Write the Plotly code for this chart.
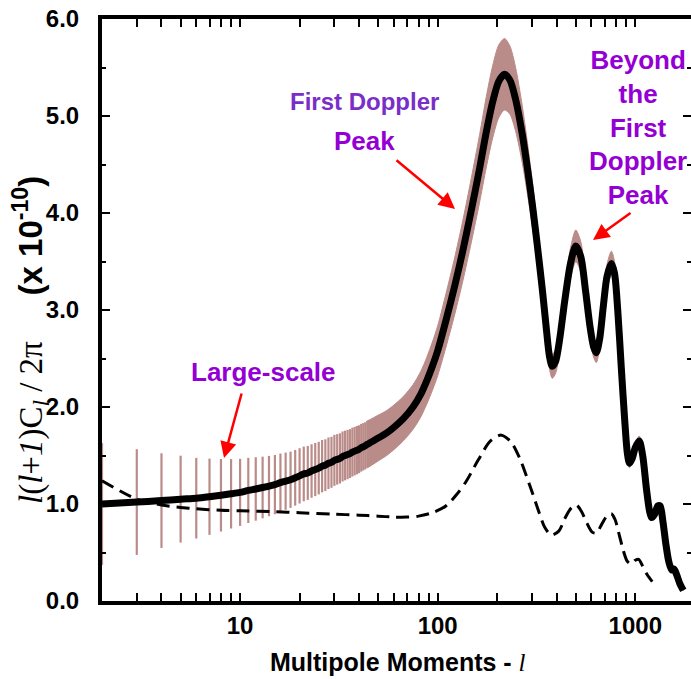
import math
import plotly.graph_objects as go

# ---------------- data ----------------
# low multipoles: individual cosmic-variance bars
l_low = list(range(2, 46))
cl_low = [1.00, 1.02, 1.035, 1.05, 1.06, 1.075, 1.09, 1.105, 1.12, 1.14, 1.155, 1.17, 1.185, 1.20,
          1.22, 1.235, 1.25, 1.27, 1.29, 1.31, 1.32, 1.34, 1.355, 1.37, 1.39, 1.40, 1.42, 1.43,
          1.45, 1.46, 1.47, 1.49, 1.50, 1.51, 1.52, 1.535, 1.545, 1.555, 1.565, 1.58, 1.59, 1.60,
          1.615, 1.625]
err_low = [0.63, 0.545, 0.488, 0.448, 0.416, 0.393, 0.374, 0.358, 0.346, 0.336, 0.327, 0.318, 0.311,
           0.305, 0.300, 0.295, 0.290, 0.287, 0.285, 0.282, 0.278, 0.276, 0.274, 0.271, 0.270, 0.267,
           0.266, 0.263, 0.263, 0.260, 0.259, 0.258, 0.256, 0.254, 0.252, 0.252, 0.250, 0.249, 0.247,
           0.246, 0.244, 0.243, 0.242, 0.241]

# higher multipoles: continuous band
l_high = [50, 55, 60, 67, 75, 82, 88, 94, 100, 111, 122, 134, 148, 163, 176, 190, 204, 218, 232, 248,
          268, 285, 303, 320, 339, 355, 368, 380, 395, 413, 440, 470, 500, 530, 560, 590, 615, 635,
          660, 690, 720, 757, 785, 815, 850, 885, 912, 935, 965, 1000, 1047, 1090, 1140, 1180, 1209,
          1250, 1300, 1336, 1380, 1430, 1480, 1530, 1570, 1620, 1680, 1750]
cl_high = [1.68, 1.73, 1.79, 1.88, 2.00, 2.13, 2.27, 2.42, 2.58, 2.92, 3.25, 3.61, 4.03, 4.46, 4.83,
           5.15, 5.36, 5.43, 5.37, 5.17, 4.81, 4.45, 4.05, 3.65, 3.20, 2.80, 2.52, 2.42, 2.47, 2.68,
           3.10, 3.48, 3.66, 3.55, 3.20, 2.83, 2.62, 2.56, 2.70, 3.05, 3.35, 3.48, 3.38, 3.00, 2.40,
           1.85, 1.52, 1.42, 1.47, 1.58, 1.65, 1.50, 1.15, 0.93, 0.86, 0.89, 0.98, 0.98, 0.82, 0.58,
           0.40, 0.32, 0.33, 0.27, 0.18, 0.11]
err_high = [0.236, 0.232, 0.230, 0.229, 0.230, 0.235, 0.241, 0.249, 0.257, 0.277, 0.294, 0.312, 0.331,
            0.349, 0.364, 0.373, 0.375, 0.368, 0.352, 0.328, 0.294, 0.264, 0.233, 0.204, 0.174, 0.149,
            0.131, 0.124, 0.124, 0.132, 0.148, 0.160, 0.164, 0.154, 0.135, 0.116, 0.106, 0.102, 0.105,
            0.116, 0.125, 0.126, 0.121, 0.105, 0.082, 0.062, 0.050, 0.046, 0.047, 0.050, 0.051, 0.045,
            0.034, 0.027, 0.025, 0.025, 0.027, 0.027, 0.022, 0.015, 0.010, 0.008, 0.008, 0.007, 0.004,
            0.003]

# dashed comparison model
l_dash = [2, 3, 4, 5, 6, 8, 10, 15, 20, 30, 40, 50, 60, 70, 80, 94, 110, 125, 140, 160, 185, 210, 235,
          259, 280, 302, 325, 348, 376, 410, 440, 470, 503, 535, 570, 605, 635, 680, 720, 757, 790,
          830, 870, 910, 950, 1000, 1040, 1090, 1150, 1219]
cl_dash = [1.24, 1.05, 0.99, 0.965, 0.95, 0.935, 0.93, 0.92, 0.91, 0.895, 0.885, 0.875, 0.865, 0.865,
           0.875, 0.91, 0.98, 1.10, 1.24, 1.45, 1.65, 1.71, 1.64, 1.48, 1.30, 1.11, 0.92, 0.76, 0.68,
           0.72, 0.85, 0.95, 0.99, 0.92, 0.80, 0.71, 0.70, 0.80, 0.88, 0.90, 0.84, 0.68, 0.52, 0.41,
           0.38, 0.42, 0.43, 0.36, 0.27, 0.20]

x_ticks = [10, 100, 1000]
x_minor = [3, 4, 5, 6, 7, 8, 9, 20, 30, 40, 50, 60, 70, 80, 90, 200, 300, 400, 500, 600, 700, 800, 900]
y_ticks = [0, 1, 2, 3, 4, 5, 6]
y_ticklabels = ["0.0", "1.0", "2.0", "3.0", "4.0", "5.0", "6.0"]
y_minor = [0.5, 1.5, 2.5, 3.5, 4.5, 5.5]

# ---------------- styling ----------------
BAND = "#ba8c89"
PURPLE = "#9400d3"
PURPLE2 = "#7a2ec8"
SANS = "Liberation Sans, Arial, sans-serif"
SERIF = "Liberation Serif, Times New Roman, serif"

W, H = 691, 679
ML, MR, MT, MB = 102, 0, 19, 78
PW, PH = W - ML - MR, H - MT - MB


def px(xp):
    return (xp - ML) / PW


def py(yp):
    return (H - MB - yp) / PH


fig = go.Figure()

# error bars at low l
bx, by = [], []
for l, c, e in zip(l_low, cl_low, err_low):
    bx += [l, l, None]
    by += [c - e, c + e, None]
fig.add_trace(go.Scatter(x=bx, y=by, mode="lines", line=dict(color=BAND, width=2.2),
                         cliponaxis=False, hoverinfo="skip"))

# band at higher l
lb = l_low[-2:] + l_high
cb = cl_low[-2:] + cl_high
eb = err_low[-2:] + err_high
up = [c + e for c, e in zip(cb, eb)]
lo = [c - e for c, e in zip(cb, eb)]
fig.add_trace(go.Scatter(x=lb + lb[::-1], y=up + lo[::-1], mode="lines", fill="toself",
                         fillcolor=BAND, line=dict(color=BAND, width=1, shape="spline", smoothing=0.8),
                         hoverinfo="skip"))

# dashed model
fig.add_trace(go.Scatter(x=l_dash, y=cl_dash, mode="lines",
                         line=dict(color="black", width=3, dash="13px,7px", shape="spline", smoothing=0.8),
                         cliponaxis=False))

# solid model
fig.add_trace(go.Scatter(x=l_low + l_high, y=cl_low + cl_high, mode="lines",
                         line=dict(color="black", width=7, shape="spline", smoothing=0.8),
                         cliponaxis=False))

# invisible trace to host the right-hand tick axis
fig.add_trace(go.Scatter(x=[l_low[0]], y=[cl_low[0]], yaxis="y2", mode="markers",
                         marker=dict(opacity=0), hoverinfo="skip"))

tickfont = dict(family=SANS, size=24, color="black", weight="bold")
fig.update_layout(
    xaxis=dict(type="log", range=[math.log10(2), 3.282], showline=True, linewidth=4, linecolor="black",
               mirror="allticks", ticks="inside", ticklen=8, tickwidth=2, tickcolor="black",
               tickvals=x_ticks, ticktext=[str(v) for v in x_ticks], tickfont=tickfont,
               ticklabelstandoff=0, showgrid=False, zeroline=False,
               minor=dict(tickvals=x_minor, ticks="inside", ticklen=4, tickwidth=2,
                          tickcolor="black", showgrid=False)),
    yaxis=dict(range=[0, 6], showline=True, linewidth=4, linecolor="black",
               ticks="inside", ticklen=8, tickwidth=2, tickcolor="black",
               tickvals=y_ticks, ticktext=y_ticklabels, tickfont=tickfont,
               ticklabelstandoff=14, showgrid=False, zeroline=False,
               minor=dict(tickvals=y_minor, ticks="inside", ticklen=4, tickwidth=2,
                          tickcolor="black", showgrid=False)),
    yaxis2=dict(range=[0, 6], overlaying="y", side="right", showline=False,
                ticks="inside", ticklen=8, tickwidth=2, tickcolor="black",
                tickvals=y_ticks, showticklabels=False, showgrid=False, zeroline=False,
                minor=dict(tickvals=y_minor, ticks="inside", ticklen=4, tickwidth=2,
                           tickcolor="black", showgrid=False)),
)

ann = []
# axis titles
ann.append(dict(xref="paper", yref="paper", x=px(398), y=py(662), xanchor="center", yanchor="middle",
                showarrow=False,
                text="<b>Multipole Moments - </b><span style=\"font-family:Liberation Serif\"><i>l</i></span>",
                font=dict(family=SANS, size=25, color="black")))
ann.append(dict(xref="paper", yref="paper", x=px(30), y=py(340), xanchor="center", yanchor="middle",
                showarrow=False, textangle=-90,
                text=("<span style=\"font-family:Liberation Serif;font-size:33px\"><i>l</i>(<i>l</i>+<i>1</i>)"
                      "C<sub><i>l</i></sub> / 2π</span>     <b>(x 10<sup>-10</sup>)</b>"),
                font=dict(family=SANS, size=33, color="black")))

# text labels
lab = dict(xref="paper", yref="paper", showarrow=False, xanchor="center", yanchor="middle")
ann.append(dict(lab, x=px(263), y=py(372), text="<b>Large-scale</b>",
                font=dict(family=SANS, size=26, color=PURPLE)))
ann.append(dict(lab, x=px(364), y=py(101), text="<b>First Doppler</b>",
                font=dict(family=SANS, size=24, color=PURPLE2)))
ann.append(dict(lab, x=px(364), y=py(141), text="<b>Peak</b>",
                font=dict(family=SANS, size=26, color=PURPLE)))
ann.append(dict(lab, x=px(638), y=py(127), text="<b>Beyond<br>the<br>First<br>Doppler<br>Peak</b>",
                font=dict(family=SANS, size=26, color=PURPLE)))

# arrows
for hx, hy, tx, ty in [(224, 458, 242, 392), (455, 209, 395, 159), (593, 240, 632, 212)]:
    ann.append(dict(xref="paper", yref="paper", x=px(hx), y=py(hy), ax=tx - hx, ay=ty - hy,
                    axref="pixel", ayref="pixel", text="", showarrow=True, arrowhead=2,
                    arrowsize=1.3, arrowwidth=2.5, arrowcolor="#ff0000", standoff=0))

fig.update_layout(width=W, height=H, margin=dict(l=ML, r=MR, t=MT, b=MB, pad=0),
                  plot_bgcolor="white", paper_bgcolor="white", showlegend=False,
                  annotations=ann)

fig.write_html("out.html")
